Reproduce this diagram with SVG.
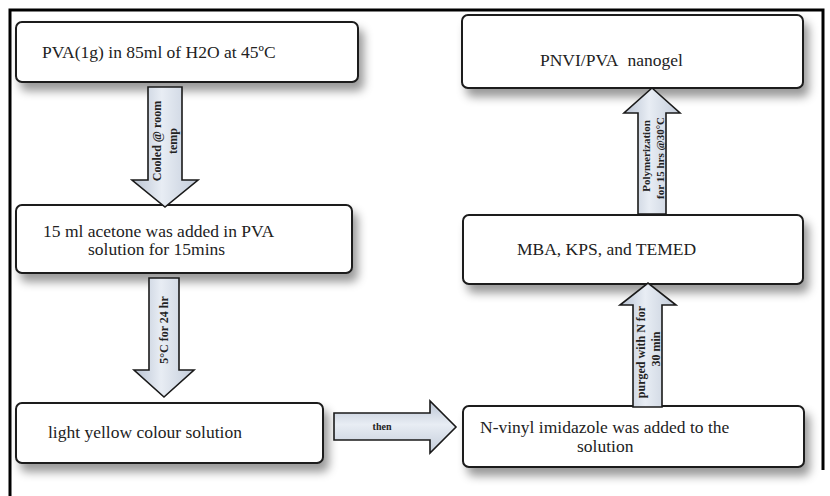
<svg xmlns="http://www.w3.org/2000/svg" width="830" height="496" viewBox="0 0 830 496">
<style>
.box{fill:#fff;stroke:#1a1a1a;stroke-width:2;filter:url(#sh)}
.t{font-family:'Times New Roman','Liberation Serif','DejaVu Serif',serif;font-size:17.5px;fill:#222}
.a{fill:url(#ag);stroke:#1a1a1a;stroke-width:1.6;stroke-linejoin:miter}
.ah{fill:url(#agh);stroke:#1a1a1a;stroke-width:1.6}
.l{font-family:'Times New Roman','Liberation Serif','DejaVu Serif',serif;font-size:12px;font-weight:bold;fill:#222;text-anchor:middle}
</style>
<defs>
<filter id="sh" x="-10%" y="-20%" width="125%" height="160%">
<feDropShadow dx="5" dy="8" stdDeviation="5" flood-color="#000" flood-opacity="0.4"/>
</filter>
<linearGradient id="ag" x1="0" y1="0" x2="1" y2="0">
<stop offset="0" stop-color="#b9c3d3"/>
<stop offset="0.45" stop-color="#e8edf4"/>
<stop offset="1" stop-color="#c3ccda"/>
</linearGradient>
<linearGradient id="agh" x1="0" y1="0" x2="0" y2="1">
<stop offset="0" stop-color="#b9c3d3"/>
<stop offset="0.45" stop-color="#e8edf4"/>
<stop offset="1" stop-color="#c3ccda"/>
</linearGradient>
</defs>
<rect width="830" height="496" fill="#fff"/>
<path d="M10,496 V10 H823 V470" fill="none" stroke="#000" stroke-width="3"/>

<g id="n1"><rect class="box" x="16" y="22" width="342" height="60" rx="6"/>
<text class="t" x="42" y="58">PVA(1g) in 85ml of H2O at 45ºC</text></g>
<g id="n2"><rect class="box" x="16" y="205" width="336" height="68" rx="6"/>
<text class="t" x="43" y="237">15 ml acetone was added in PVA</text>
<text class="t" x="88" y="255">solution for 15mins</text></g>
<g id="n3"><rect class="box" x="16" y="403" width="307" height="60" rx="6"/>
<text class="t" x="48" y="438">light yellow colour solution</text></g>
<g id="n4"><rect class="box" x="463" y="406" width="341" height="61" rx="6"/>
<text class="t" x="480" y="433">N-vinyl imidazole was added to the</text>
<text class="t" x="577" y="452">solution</text></g>
<g id="n5"><rect class="box" x="463" y="215" width="340" height="69" rx="6"/>
<text class="t" x="517" y="255">MBA, KPS, and TEMED</text></g>
<g id="n6"><rect class="box" x="462" y="15" width="341" height="73" rx="6"/>
<text class="t" x="540" y="66">PNVI/PVA<tspan dx="9">nanogel</tspan></text></g>

<g id="connectors">
<path class="a" d="M148,87 H182 V180 H198 L165,207 L132,180 H148 Z"/>
<text class="l" transform="translate(161,141) rotate(-90)">Cooled @ room</text>
<text class="l" transform="translate(177,141) rotate(-90)">temp</text>

<path class="a" d="M149,278 H179 V370 H194 L164,397 L134,370 H149 Z"/>
<text class="l" transform="translate(168,330) rotate(-90)">5°C for 24 hr</text>

<path class="ah" d="M334,413 H430 V401 L456,427 L430,453 V440 H334 Z"/>
<text class="l" x="382" y="430" style="font-size:10px">then</text>

<path class="a" d="M633,407 H662 V305 H676 L648,283 L620,305 H633 Z"/>
<text class="l" transform="translate(645,352) rotate(-90)">purged with N for</text>
<text class="l" transform="translate(660,349) rotate(-90)">30 min</text>

<path class="a" d="M638,214 H666 V113 H680 L652,88 L624,113 H638 Z"/>
<text class="l" transform="translate(650,156) rotate(-90)" style="font-size:11px">Polymerization</text>
<text class="l" transform="translate(664,158) rotate(-90)" style="font-size:11px">for 15 hrs @30°C</text>
</g>
</svg>
